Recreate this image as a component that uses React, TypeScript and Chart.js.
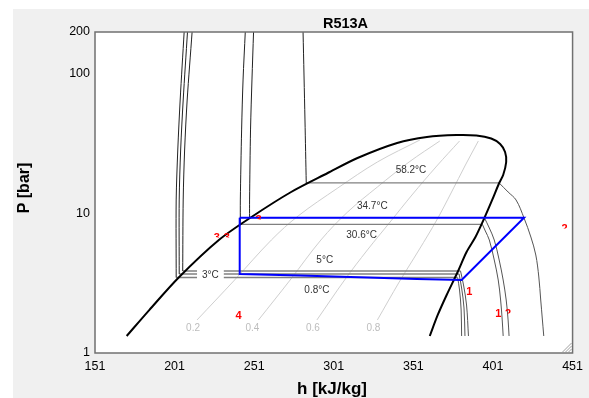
import React, { useEffect, useRef } from 'react';
import { Chart, registerables } from 'chart.js';

Chart.register(...registerables);

type Pt = [number, number]; // [h kJ/kg, P bar]

const chartTitle = 'R513A';
const xTitle = 'h [kJ/kg]';
const yTitle = 'P [bar]';
const xTicks = [151, 201, 251, 301, 351, 401, 451];
const yTicks = [1, 10, 100, 200];

// saturation dome (liquid line -> critical point -> vapour line)
const saturationDome: Pt[] = [
  [170.9, 1.324], [185.2, 2.04], [203.9, 3.506], [228.8, 6.457], [249.3, 9.44],
  [274.2, 14.26], [297.2, 19.51], [315.9, 24.99], [340.8, 32.02], [359.5, 35.35],
  [378.1, 36.53], [390.6, 36.23], [399.9, 34.48], [405.5, 31.5], [408.6, 27.6],
  [409.3, 23.4], [407.4, 18.88], [404.9, 16.55], [400.5, 12.5], [395.6, 9.285],
  [390.0, 6.784], [384.4, 5.3], [378.8, 3.807], [371.9, 2.605], [366.3, 1.873],
  [361.3, 1.324],
];

// isotherms
const isoNames = ['58.2°C', '34.7°C', '30.6°C', '5°C', '3°C', '0.8°C'];
const isoPressure = [16.55, 9.33, 8.37, 3.871, 3.685, 3.477];
const iso58Liquid: Pt[] = [[283.7, 16.55], [282.9, 46.8], [281.7, 200]];
const iso58Vapor: Pt[] = [[404.9, 16.55], [410.5, 14.26], [415.5, 12.5], [420.5, 9.285], [424.8, 6.784], [427.9, 5.04], [429.8, 3.506], [431.0, 2.398], [432.9, 1.324]];
const iso347Liquid: Pt[] = [[248.1, 9.33], [248.1, 12.5], [248.7, 39.7], [249.6, 90.6], [250.6, 200]];
const iso347Vapor: Pt[] = [[395.6, 9.33], [398.7, 7.87], [401.8, 6.457], [404.9, 4.642], [407.4, 3.337], [409.3, 2.398], [410.5, 1.725], [411.1, 1.324]];
const iso306Liquid: Pt[] = [[242.3, 8.37], [242.3, 12.5], [243.1, 39.7], [244.0, 90.6], [245.4, 200]];
const iso306Vapor: Pt[] = [[394.3, 8.37], [396.2, 7.49], [398.7, 6.457], [401.8, 4.642], [404.3, 3.337], [405.8, 2.398], [406.8, 1.725], [407.4, 1.324]];
const iso5Liquid: Pt[] = [[206.1, 3.871], [206.4, 12.5], [207.3, 28.52], [208.9, 65.1], [212.0, 200]];
const iso5Vapor: Pt[] = [[380.6, 3.871], [382.5, 3.073], [384.4, 2.208], [385.6, 1.324]];
const iso3Liquid: Pt[] = [[203.9, 3.685], [203.9, 12.5], [204.8, 28.52], [206.4, 65.1], [209.1, 200]];
const iso3Vapor: Pt[] = [[379.7, 3.685], [381.3, 2.924], [382.8, 2.102], [383.4, 1.324]];
const iso08Liquid: Pt[] = [[202.0, 3.477], [202.0, 12.5], [203.0, 28.52], [204.5, 65.1], [207.0, 200]];
const iso08Vapor: Pt[] = [[378.8, 3.477], [380.0, 2.829], [381.0, 2.033], [381.3, 1.324]];
const isoLiquid = [iso58Liquid, iso347Liquid, iso306Liquid, iso5Liquid, iso3Liquid, iso08Liquid];
const isoVapor = [iso58Vapor, iso347Vapor, iso306Vapor, iso5Vapor, iso3Vapor, iso08Vapor];
const isoLabelH = [349.5, 325.2, 318.5, 295.3, 223.5, 290.4];
const isoLabelP = [20.5, 11.32, 7.01, 4.59, 3.624, 2.829];
const isoLabelBoxed = [false, false, false, false, true, false];

// vapour quality lines
const qualityNames = ['0.2', '0.4', '0.6', '0.8'];
const quality02: Pt[] = [[215.1, 1.725], [238.7, 3.337], [261.8, 6.457], [278.6, 9.6], [303.5, 15.23], [328.4, 23.4], [355.1, 33.64]];
const quality04: Pt[] = [[253.7, 1.725], [273.6, 3.337], [292.9, 6.457], [309.7, 10.25], [328.4, 15.49], [348.3, 23.4], [367.6, 33.09]];
const quality06: Pt[] = [[290.4, 1.725], [307.8, 3.337], [322.1, 5.475], [336.4, 8.694], [350.1, 13.57], [365.7, 21.9], [380.0, 33.09]];
const quality08: Pt[] = [[328.4, 1.725], [342.1, 3.228], [354.5, 5.475], [365.7, 8.98], [375.0, 14.26], [383.7, 22.27], [391.8, 33.09]];
const qualityLines = [quality02, quality04, quality06, quality08];
const qualityLabelH = [212.6, 249.9, 287.9, 325.9];
const qualityLabelP = 1.511;

// refrigeration cycle
const cycle: Pt[] = [[241.9, 9.33], [241.9, 3.685], [279.8, 3.6], [322.1, 3.477], [353.2, 3.39], [381.3, 3.337], [420.5, 9.33], [241.9, 9.33]];

// state point markers (red)
const stateText = ['2', '3', '3', '3', '4', '1', '1', '2'];
const stateH = [446.0, 253.7, 227.5, 233.8, 241.2, 386.2, 404.3, 410.5];
const stateP = [7.74, 8.98, 6.67, 6.67, 1.842, 2.737, 1.904, 1.904];
const stateClipped = [true, true, true, true, false, false, false, true];

const toXY = (pts: Pt[]) => pts.map(([h, p]) => ({ x: h, y: p }));

const FONT = '"Liberation Sans", Arial, sans-serif';

const bgPlugin = {
  id: 'bgPlugin',
  beforeDraw(chart: any) {
    const { ctx, chartArea: a, width, height } = chart;
    ctx.save();
    ctx.fillStyle = '#ffffff';
    ctx.fillRect(0, 0, width, height);
    ctx.fillStyle = '#f0f0f0';
    ctx.fillRect(13, 9, width - 13, height - 9);
    ctx.fillStyle = '#ffffff';
    ctx.fillRect(a.left, a.top, a.right - a.left, a.bottom - a.top);
    ctx.restore();
  },
};

const decorPlugin = {
  id: 'decorPlugin',
  afterDatasetsDraw(chart: any) {
    const { ctx, chartArea: a, scales } = chart;
    const xs = scales.x;
    const ys = scales.y;
    ctx.save();
    ctx.beginPath();
    ctx.rect(a.left, a.top, a.right - a.left, a.bottom - a.top);
    ctx.clip();
    ctx.textAlign = 'center';
    ctx.textBaseline = 'middle';
    // isotherm labels
    ctx.font = `10px ${FONT}`;
    isoNames.forEach((t, i) => {
      const px = xs.getPixelForValue(isoLabelH[i]);
      const py = ys.getPixelForValue(isoLabelP[i]);
      if (isoLabelBoxed[i]) {
        const w = ctx.measureText(t).width;
        ctx.fillStyle = '#ffffff';
        ctx.fillRect(px - w / 2 - 5, py - 7, w + 10, 14);
      }
      ctx.fillStyle = '#333333';
      ctx.fillText(t, px, py);
    });
    // quality labels
    ctx.fillStyle = '#bdbdbd';
    qualityNames.forEach((t, i) => {
      ctx.fillText(t, xs.getPixelForValue(qualityLabelH[i]), ys.getPixelForValue(qualityLabelP));
    });
    // state markers
    ctx.font = `bold 11px ${FONT}`;
    ctx.fillStyle = '#ff0000';
    stateText.forEach((t, i) => {
      const px = xs.getPixelForValue(stateH[i]);
      const py = ys.getPixelForValue(stateP[i]);
      ctx.save();
      if (stateClipped[i]) {
        ctx.beginPath();
        ctx.rect(px - 7, py - 7, 14, 6.5);
        ctx.clip();
      }
      ctx.fillText(t, px, py);
      ctx.restore();
    });
    ctx.restore();

    ctx.save();
    // plot border
    ctx.strokeStyle = '#707070';
    ctx.lineWidth = 1.5;
    ctx.strokeRect(a.left, a.top, a.right - a.left, a.bottom - a.top);
    // resize grip
    ctx.strokeStyle = '#a0a0a0';
    ctx.lineWidth = 1;
    [3, 6, 9].forEach((k) => {
      ctx.beginPath();
      ctx.moveTo(a.right - 1 - k, a.bottom - 1);
      ctx.lineTo(a.right - 1, a.bottom - 1 - k);
      ctx.stroke();
    });
    // titles
    ctx.fillStyle = '#000000';
    ctx.textAlign = 'center';
    ctx.textBaseline = 'middle';
    ctx.font = `bold 14.5px ${FONT}`;
    ctx.fillText(chartTitle, 345.5, 24);
    ctx.font = `bold 17px ${FONT}`;
    ctx.fillText(xTitle, 332, 389);
    ctx.translate(25, 188);
    ctx.rotate(-Math.PI / 2);
    ctx.font = `bold 16px ${FONT}`;
    ctx.fillText(yTitle, 0, 0);
    ctx.restore();
  },
};

function line(data: Pt[], color: string, width: number, tension: number) {
  return {
    data: toXY(data),
    showLine: true,
    borderColor: color,
    backgroundColor: color,
    borderWidth: width,
    pointRadius: 0,
    pointHoverRadius: 0,
    fill: false,
    tension,
  };
}

export default function App() {
  const ref = useRef<HTMLCanvasElement>(null);
  useEffect(() => {
    const datasets: any[] = [];
    datasets.push(line(cycle, '#0000ff', 2, 0));
    datasets.push(line(saturationDome, '#000000', 2, 0.3));
    isoNames.forEach((_, i) => {
      const liq = isoLiquid[i];
      const vap = isoVapor[i];
      const horiz: Pt[] = [[liq[0][0], isoPressure[i]], [vap[0][0], isoPressure[i]]];
      datasets.push(line(liq, '#222222', 1, 0.3));
      datasets.push(line(horiz, '#808080', 1.3, 0));
      datasets.push(line(vap, '#555555', 1, 0.35));
    });
    qualityLines.forEach((q) => datasets.push(line(q, '#cfcfcf', 1, 0.35)));

    const chart = new Chart(ref.current as HTMLCanvasElement, {
      type: 'scatter',
      data: { datasets },
      options: {
        animation: false,
        responsive: false,
        devicePixelRatio: 1,
        layout: { padding: { top: 32, right: 12, bottom: 0, left: 0 } },
        plugins: { legend: { display: false }, tooltip: { enabled: false }, title: { display: false } },
        scales: {
          x: {
            type: 'linear',
            min: 151,
            max: 451,
            grid: { display: false, drawTicks: false },
            border: { display: false },
            afterBuildTicks: (s: any) => { s.ticks = xTicks.map((v) => ({ value: v })); },
            afterFit: (s: any) => { s.height = 45; },
            ticks: {
              padding: 6,
              color: '#000000',
              font: { family: FONT, size: 12.5 },
              callback: (v: any) => String(v),
            },
          },
          y: {
            type: 'logarithmic',
            min: 1,
            max: 200,
            grid: { display: false, drawTicks: false },
            border: { display: false },
            afterBuildTicks: (s: any) => { s.ticks = yTicks.map((v) => ({ value: v })); },
            afterFit: (s: any) => { s.width = 95; },
            ticks: {
              padding: 5,
              color: '#000000',
              font: { family: FONT, size: 12.5 },
              callback: (v: any) => String(v),
            },
          },
        },
      } as any,
      plugins: [bgPlugin, decorPlugin],
    });
    return () => chart.destroy();
  }, []);
  return (
    <div style={{ position: 'fixed', left: 0, top: 0, width: 589, height: 398 }}>
      <canvas ref={ref} width={589} height={398} style={{ display: 'block', width: 589, height: 398 }} />
    </div>
  );
}
